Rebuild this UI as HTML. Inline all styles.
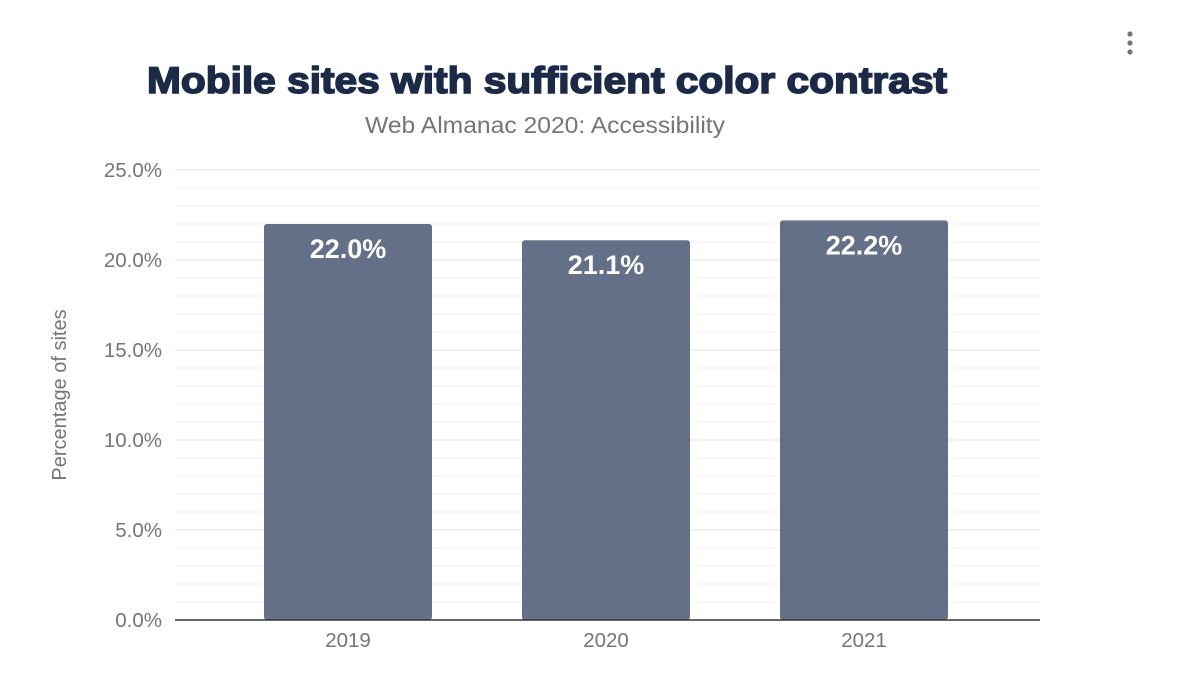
<!DOCTYPE html>
<html><head><meta charset="utf-8"><style>
body{margin:0;background:#fff;width:1200px;height:675px;overflow:hidden;font-family:"Liberation Sans",Arial,sans-serif}
</style></head><body>
<svg id="chart" width="1200" height="675">
<text x="547" y="93" text-anchor="middle" font-size="37" font-weight="bold" fill="#1b2a47" stroke="#1b2a47" stroke-width="1.6" textLength="800" lengthAdjust="spacingAndGlyphs">Mobile sites with sufficient color contrast</text>
<text x="545" y="133" text-anchor="middle" font-size="23" fill="#757575" textLength="360" lengthAdjust="spacingAndGlyphs">Web Almanac 2020: Accessibility</text>
<g fill="#757575"><circle cx="1130" cy="34" r="2.6"/><circle cx="1130" cy="43" r="2.6"/><circle cx="1130" cy="52" r="2.6"/></g>
<text transform="translate(66,395) rotate(-90)" text-anchor="middle" font-size="20" fill="#757575">Percentage of sites</text>
<g id="grid"></g><g id="bars"></g><g id="xlab"></g>
</svg>
<script>
const categories=["2019","2020","2021"];
const values=[22.0,21.1,22.2];
const valueLabels=["22.0%","21.1%","22.2%"];
const yTicks=[0,5,10,15,20,25];
const yTickLabels=["0.0%","5.0%","10.0%","15.0%","20.0%","25.0%"];
const ns="http://www.w3.org/2000/svg";
const y=v=>620-v*18;
const x=i=>219+(i+0.5)*258;
const bw=168;
function mk(t,a,p){const e=document.createElementNS(ns,t);for(const k in a)e.setAttribute(k,a[k]);p.appendChild(e);return e;}
const g=document.getElementById('grid');
for(let v=1;v<=25;v++){const l=mk('line',{x1:175,x2:1040,y1:y(v),y2:y(v),stroke:v%5===0?'#ebebeb':'#f3f3f3','stroke-width':v%5===0?1.5:1},g);

}
yTicks.forEach((v,i)=>{const t=mk('text',{x:162,y:y(v)+7,'text-anchor':'end','font-size':20.5,fill:'#757575'},g);t.textContent=yTickLabels[i];

});
const b=document.getElementById('bars');
values.forEach((v,i)=>{const r=mk('rect',{x:x(i)-bw/2,y:y(v),width:bw,height:y(0)-y(v),rx:3,fill:'#647087'},b);


const t=mk('text',{x:x(i),y:y(v)+34,'text-anchor':'middle','font-size':27,'font-weight':'bold',fill:'#fff'},b);t.textContent=valueLabels[i];


const c=mk('text',{x:x(i),y:647,'text-anchor':'middle','font-size':20.5,fill:'#757575'},document.getElementById('xlab'));c.textContent=categories[i];

});
const ax=mk('line',{x1:175,x2:1040,y1:620,y2:620,stroke:'#333','stroke-width':1.5},b);


</script>
</body></html>
